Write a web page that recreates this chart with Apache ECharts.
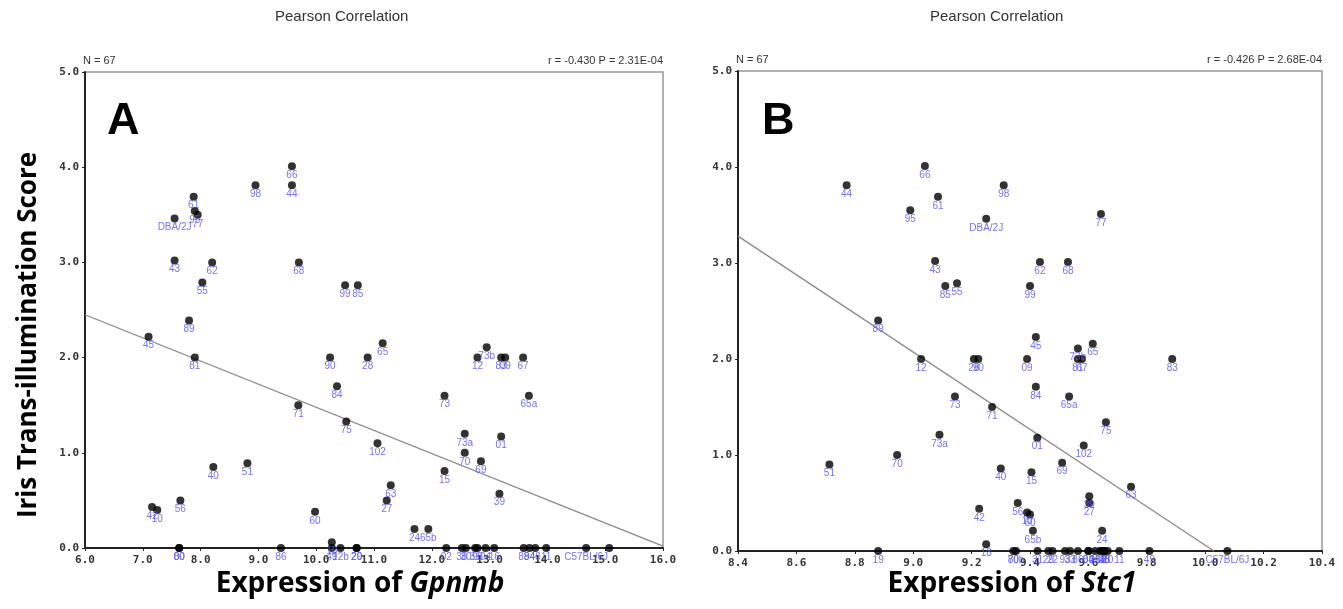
<!DOCTYPE html>
<html>
<head>
<meta charset="utf-8">
<script src="https://cdn.jsdelivr.net/npm/echarts@6/dist/echarts.min.js"></script>
<style>
html, body { margin: 0; padding: 0; background: #fff; }
#container { width: 1343px; height: 609px; }
</style>
</head>
<body>
<div id="container"></div>
<script>
// panel A: Gpnmb expression vs iris score
var strainsA = ['DBA/2J','61','95','77','98','66','44','43','62','68','55','99','85','89','45','81','90','28','65','84','71','75','102',
  '73b','12','83','09','67','73','65a','73a','01','70','69','15','63','27','39','24','65b','40','51','56','42','10','60','18',
  '80','00','86','49','12b','29','20','02','38','30','31','93','04','16','88','94','48','11','C57BL/6J'];
var gpnmbX = [7.55,7.88,7.90,7.95,8.95,9.58,9.58,7.55,8.20,9.70,8.03,10.50,10.72,7.80,7.10,7.90,10.24,10.89,11.15,10.36,9.69,10.52,11.06,
  12.95,12.79,13.20,13.27,13.58,12.22,13.68,12.57,13.20,12.57,12.85,12.22,11.29,11.22,13.17,11.70,11.94,8.22,8.81,7.65,7.16,7.25,9.98,10.27,
  7.63,7.63,9.39,10.27,10.42,10.70,10.70,12.25,12.52,12.59,12.75,12.79,12.93,13.08,13.59,13.69,13.79,13.98,14.67,15.07];
var scoreA = [3.46,3.69,3.54,3.50,3.81,4.01,3.81,3.02,3.00,3.00,2.79,2.76,2.76,2.39,2.22,2.00,2.00,2.00,2.15,1.70,1.50,1.33,1.10,
  2.11,2.00,2.00,2.00,2.00,1.60,1.60,1.20,1.17,1.00,0.91,0.81,0.66,0.50,0.57,0.20,0.20,0.85,0.89,0.50,0.43,0.40,0.38,0.06,
  0,0,0,0,0,0,0,0,0,0,0,0,0,0,0,0,0,0,0,0];
var fitA = [[6.0, 2.45], [16.0, 0.02]];

// panel B: Stc1 expression vs iris score
var strainsB = ['44','66','61','95','DBA/2J','98','77','43','85','55','99','89','12','28','90','09','73','71','73a','01',
  '62','68','45','73b','65','81','67','83','84','65a','75','102','51','70','40','15','42','56','10','60','65b','18',
  '69','63','39','27','24',
  '19','80','70b','31','29','22','93','33','86','88','26','32','38','20','11','49','C57BL/6J','04','16','48'];
var stc1X = [8.772,9.04,9.085,8.99,9.25,9.31,9.643,9.075,9.11,9.15,9.40,8.88,9.027,9.208,9.223,9.39,9.143,9.27,9.09,9.425,
  9.434,9.53,9.42,9.564,9.615,9.564,9.578,9.887,9.42,9.534,9.66,9.584,8.713,8.945,9.30,9.405,9.226,9.358,9.39,9.40,9.41,9.25,
  9.51,9.746,9.603,9.603,9.647,
  8.88,9.343,9.352,9.426,9.463,9.477,9.52,9.537,9.564,9.60,9.623,9.642,9.655,9.666,9.706,9.809,10.076,9.60,9.642,9.655];
var scoreB = [3.81,4.01,3.69,3.55,3.46,3.81,3.51,3.02,2.76,2.79,2.76,2.40,2.00,2.00,2.00,2.00,1.61,1.50,1.21,1.18,
  3.01,3.01,2.23,2.11,2.16,2.00,2.00,2.00,1.71,1.61,1.34,1.10,0.90,1.00,0.86,0.82,0.44,0.50,0.40,0.38,0.21,0.07,
  0.92,0.67,0.57,0.50,0.21,
  0,0,0,0,0,0,0,0,0,0,0,0,0,0,0,0,0,0,0,0];
var fitB = [[8.4, 3.28], [10.03, 0.0]];

var dom = document.getElementById('container');
var myChart = echarts.init(dom);

function pts(xs, ys, names) {
    return xs.map(function (x, i) { return { value: [x, ys[i]], name: names[i] }; });
}

var tickFont = { fontFamily: 'DejaVu Sans Mono', fontSize: 11, color: '#333', fontWeight: 'bold' };

function xAxisOf(idx, min, max, step) {
    return {
        gridIndex: idx, type: 'value', min: min, max: max, interval: step,
        axisLine: { onZero: false, lineStyle: { color: '#222', width: 2 } },
        axisTick: { show: true, length: 3, lineStyle: { color: '#222' } },
        splitLine: { show: false },
        axisLabel: Object.assign({ margin: 7, formatter: function (v) { return v.toFixed(1); } }, tickFont)
    };
}
function yAxisOf(idx) {
    return {
        gridIndex: idx, type: 'value', min: 0, max: 5, interval: 1,
        axisLine: { onZero: false, lineStyle: { color: '#222', width: 2 } },
        axisTick: { show: true, length: 3, lineStyle: { color: '#222' } },
        splitLine: { show: false },
        axisLabel: Object.assign({ margin: 6, formatter: function (v) { return v.toFixed(1); } }, tickFont)
    };
}

function dots(idx, data) {
    return {
        type: 'scatter', xAxisIndex: idx, yAxisIndex: idx, data: data,
        symbolSize: 8, itemStyle: { color: '#000' }, z: 3,
        label: {
            show: true, position: 'bottom', distance: 0, formatter: '{b}',
            color: '#4d4dff', fontSize: 10, fontFamily: 'Liberation Sans'
        },
        emphasis: { disabled: true }
    };
}
function fit(idx, data) {
    return {
        type: 'line', xAxisIndex: idx, yAxisIndex: idx, data: data,
        symbol: 'none', lineStyle: { color: '#888', width: 1.3 }, z: 2, silent: true
    };
}

var smallText = { fontFamily: 'Liberation Sans', fontSize: 11, fill: '#333' };
var bigName = { fontFamily: 'Open Sans', fontSize: 28, fontWeight: 'bold', fill: '#000' };

option = {
    animation: false,
    grid: [
        { left: 85, right: 680, top: 72, bottom: 61, show: true, borderColor: '#999', borderWidth: 1.5 },
        { left: 738, right: 21, top: 71, bottom: 58, show: true, borderColor: '#999', borderWidth: 1.5 }
    ],
    xAxis: [xAxisOf(0, 6, 16, 1), xAxisOf(1, 8.4, 10.4, 0.2)],
    yAxis: [yAxisOf(0), yAxisOf(1)],
    series: [
        fit(0, fitA), dots(0, pts(gpnmbX, scoreA, strainsA)),
        fit(1, fitB), dots(1, pts(stc1X, scoreB, strainsB))
    ],
    graphic: [
        { type: 'text', left: 275, top: 9, style: { text: 'Pearson Correlation', fontFamily: 'Liberation Sans', fontSize: 15, fill: '#333' } },
        { type: 'text', left: 930, top: 9, style: { text: 'Pearson Correlation', fontFamily: 'Liberation Sans', fontSize: 15, fill: '#333' } },
        { type: 'text', left: 83, top: 55, style: Object.assign({ text: 'N = 67' }, smallText) },
        { type: 'text', left: 736, top: 54, style: Object.assign({ text: 'N = 67' }, smallText) },
        { type: 'text', right: 680, top: 55, style: Object.assign({ text: 'r = -0.430 P = 2.31E-04' }, smallText) },
        { type: 'text', right: 21, top: 54, style: Object.assign({ text: 'r = -0.426 P = 2.68E-04' }, smallText) },
        { type: 'text', left: 107, top: 99, style: { text: 'A', fontFamily: 'Liberation Sans', fontSize: 45, fontWeight: 'bold', fill: '#000' } },
        { type: 'text', left: 762, top: 99, style: { text: 'B', fontFamily: 'Liberation Sans', fontSize: 45, fontWeight: 'bold', fill: '#000' } },
        {
            type: 'text', x: 360, y: 584,
            style: {
                text: '{n|Expression of }{i|Gpnmb}', align: 'center', verticalAlign: 'middle',
                rich: { n: bigName, i: Object.assign({}, bigName, { fontStyle: 'italic' }) }
            }
        },
        {
            type: 'text', x: 1012, y: 584,
            style: {
                text: '{n|Expression of }{i|Stc1}', align: 'center', verticalAlign: 'middle',
                rich: { n: bigName, i: Object.assign({}, bigName, { fontStyle: 'italic' }) }
            }
        },
        {
            type: 'text', x: 29, y: 335, rotation: Math.PI / 2,
            style: Object.assign({ text: 'Iris Trans-illumination Score', align: 'center', verticalAlign: 'middle' }, bigName, { fontSize: 26 })
        }
    ]
};

myChart.setOption(option, true);
window.onresize = function () {
    myChart.resize();
};
</script>
</body>
</html>
